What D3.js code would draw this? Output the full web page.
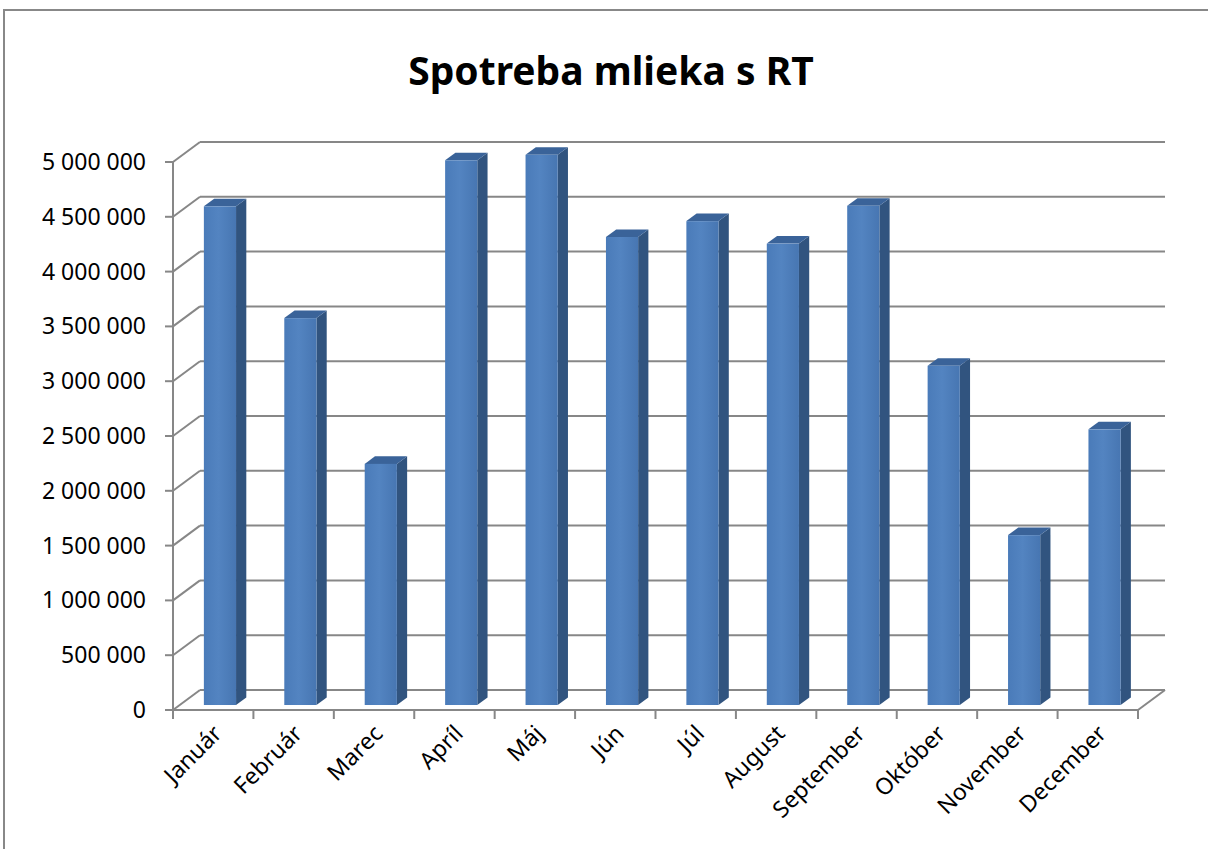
<!DOCTYPE html>
<html>
<head>
<meta charset="utf-8">
<script src="https://cdn.jsdelivr.net/npm/d3@7"></script>
<style>
  body { margin: 0; background: #fff; }
  text { font-family: "Noto Sans", "Open Sans", sans-serif; fill: #000; }
</style>
</head>
<body>
<svg id="chart" width="1208" height="849"></svg>
<script>
var months = ["Január", "Február", "Marec", "Apríl", "Máj", "Jún", "Júl",
  "August", "September", "Október", "November", "December"];
var values = [4550000, 3530000, 2200000, 4970000, 5020000, 4270000, 4415000,
  4210000, 4555000, 3095000, 1550000, 2515000];
var yTicks = [0, 500000, 1000000, 1500000, 2000000, 2500000, 3000000,
  3500000, 4000000, 4500000, 5000000];
var title = "Spotreba mlieka s RT";

var svg = d3.select("#chart");

// depth of the 3d box
var depthX = 27, depthY = -20;

var x = d3.scaleBand()
  .domain(months)
  .range([173, 1138])
  .padding(0);

var y = d3.scaleLinear()
  .domain([0, 5000000])
  .range([710, 162]);

var fmt = function (d) {
  return d3.format(",")(d).replace(/,/g, " ");
};

// outer frame (right and bottom edges fall outside the picture)
svg.append("rect")
  .attr("x", 4).attr("y", 10)
  .attr("width", 1220).attr("height", 870)
  .attr("fill", "none")
  .attr("stroke", "#888")
  .attr("stroke-width", 2);

svg.append("text")
  .attr("x", 611)
  .attr("y", 85)
  .attr("text-anchor", "middle")
  .style("font-size", "39px")
  .style("font-weight", "bold")
  .text(title);

var grid = svg.append("g")
  .attr("stroke", "#878787")
  .attr("stroke-width", 2)
  .attr("fill", "none");

// back wall lines
grid.selectAll("line.back")
  .data(yTicks)
  .enter().append("line")
  .attr("x1", 173 + depthX)
  .attr("x2", 1138 + depthX)
  .attr("y1", function (d) { return y(d) + depthY; })
  .attr("y2", function (d) { return y(d) + depthY; });

// side wall diagonals
grid.selectAll("line.side")
  .data(yTicks)
  .enter().append("line")
  .attr("x1", 173)
  .attr("x2", 173 + depthX)
  .attr("y1", function (d) { return y(d); })
  .attr("y2", function (d) { return y(d) + depthY; });

// floor front and right edge
grid.append("line")
  .attr("x1", 173).attr("x2", 1138)
  .attr("y1", y(0)).attr("y2", y(0));
grid.append("line")
  .attr("x1", 1138).attr("x2", 1138 + depthX)
  .attr("y1", y(0)).attr("y2", y(0) + depthY);

// y axis
grid.append("line")
  .attr("x1", 173).attr("x2", 173)
  .attr("y1", y(5000000)).attr("y2", y(0));
grid.selectAll("line.ytick")
  .data(yTicks)
  .enter().append("line")
  .attr("x1", 165).attr("x2", 173)
  .attr("y1", function (d) { return y(d); })
  .attr("y2", function (d) { return y(d); });

// x ticks
var xEdges = months.map(function (m) { return x(m); }).concat([1138]);
grid.selectAll("line.xtick")
  .data(xEdges)
  .enter().append("line")
  .attr("x1", function (d) { return d; })
  .attr("x2", function (d) { return d; })
  .attr("y1", y(0)).attr("y2", y(0) + 9);

svg.selectAll("text.ylab")
  .data(yTicks)
  .enter().append("text")
  .attr("x", 146)
  .attr("y", function (d) { return y(d); })
  .attr("dy", "0.35em")
  .attr("text-anchor", "end")
  .style("font-size", "23px")
  .text(fmt);

svg.selectAll("text.xlab")
  .data(months)
  .enter().append("text")
  .attr("text-anchor", "end")
  .style("font-size", "23px")
  .attr("transform", function (d) {
    var cx = x(d) + x.bandwidth() / 2 + 10;
    return "translate(" + cx + ",735) rotate(-45)";
  })
  .text(function (d) { return d; });

// gradient for bar fronts
var defs = svg.append("defs");
var grad = defs.append("linearGradient")
  .attr("id", "barFront")
  .attr("x1", 0).attr("x2", 1).attr("y1", 0).attr("y2", 0);
grad.selectAll("stop")
  .data([
    {offset: "0%", color: "#4A7BB9"},
    {offset: "45%", color: "#5384C1"},
    {offset: "100%", color: "#4776B2"}
  ])
  .enter().append("stop")
  .attr("offset", function (d) { return d.offset; })
  .attr("stop-color", function (d) { return d.color; });

// bars: front face sits at 25% of the depth, bar is 38% deep
var f0 = 0.25, f1 = 0.63;
var bw = x.bandwidth() * 0.4;

var bars = svg.selectAll("g.bar")
  .data(months.map(function (m, i) { return {m: m, v: values[i]}; }))
  .enter().append("g");

function px(d) { return x(d.m) + (x.bandwidth() - bw) / 2; }

bars.append("path")
  .attr("fill", "#31547F")
  .attr("d", function (d) {
    var x0 = px(d) + bw + depthX * f0, y0 = y(0) + depthY * f0, yt = y(d.v) + depthY * f0;
    var dx = depthX * (f1 - f0), dy = depthY * (f1 - f0);
    return "M" + x0 + "," + y0 + "L" + x0 + "," + yt +
      "L" + (x0 + dx) + "," + (yt + dy) + "L" + (x0 + dx) + "," + (y0 + dy) + "Z";
  });

bars.append("path")
  .attr("fill", "#3A6399")
  .attr("d", function (d) {
    var x0 = px(d) + depthX * f0, yt = y(d.v) + depthY * f0;
    var dx = depthX * (f1 - f0), dy = depthY * (f1 - f0);
    return "M" + x0 + "," + yt + "L" + (x0 + bw) + "," + yt +
      "L" + (x0 + bw + dx) + "," + (yt + dy) + "L" + (x0 + dx) + "," + (yt + dy) + "Z";
  });

bars.append("rect")
  .attr("fill", "url(#barFront)")
  .attr("x", function (d) { return px(d) + depthX * f0; })
  .attr("y", function (d) { return y(d.v) + depthY * f0; })
  .attr("width", bw)
  .attr("height", function (d) { return y(0) - y(d.v); });
</script>
</body>
</html>
